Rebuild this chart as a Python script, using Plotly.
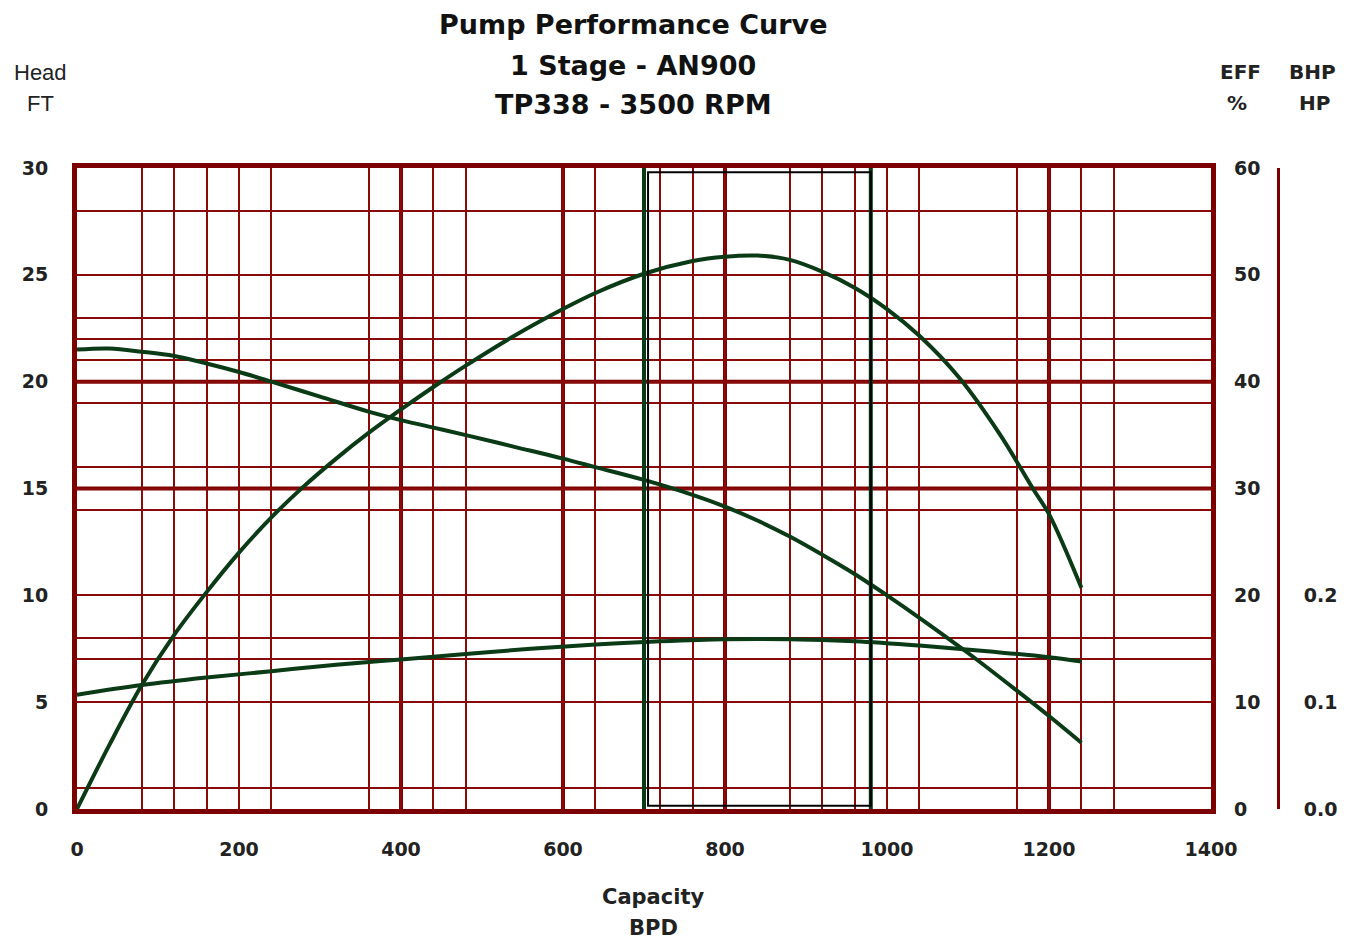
import plotly.graph_objects as go

# ---------------- data ----------------
head_q = [0, 40, 80, 120, 160, 200, 240, 300, 360, 400, 440, 480, 540, 600, 640, 700,
          760, 800, 840, 880, 920, 960, 1000, 1040, 1100, 1160, 1200, 1240]
head_ft = [21.5, 21.55, 21.4, 21.2, 20.85, 20.45, 20.0, 19.3, 18.6, 18.2, 17.85, 17.5, 16.95, 16.4, 16.0, 15.4,
           14.7, 14.15, 13.5, 12.75, 11.9, 11.0, 10.0, 8.95, 7.3, 5.55, 4.35, 3.1]

eff_q = [0, 40, 80, 120, 160, 200, 240, 280, 320, 360, 400, 440, 480, 540, 600, 640, 700,
         760, 800, 840, 880, 920, 960, 1000, 1040, 1090, 1140, 1180, 1200, 1240]
eff_pct = [0, 6.0, 11.6, 16.3, 20.3, 24.0, 27.3, 30.2, 32.8, 35.2, 37.4, 39.5, 41.5, 44.3, 46.8, 48.3, 50.1,
           51.3, 51.7, 51.8, 51.4, 50.3, 48.8, 46.8, 44.3, 40.3, 35.0, 30.0, 27.6, 20.7]

bhp_q = [0, 80, 160, 240, 320, 400, 480, 560, 640, 720, 800, 880, 960, 1040, 1120, 1200, 1240]
bhp_hp = [0.107, 0.116, 0.123, 0.129, 0.135, 0.140, 0.145, 0.150, 0.154, 0.157, 0.159, 0.159,
          0.157, 0.153, 0.148, 0.142, 0.138]

x_ticks = [0, 200, 400, 600, 800, 1000, 1200, 1400]
head_ticks = [0, 5, 10, 15, 20, 25, 30]
eff_ticks = [0, 10, 20, 30, 40, 50, 60]
bhp_ticks = [0.0, 0.1, 0.2]
bhp_labels = ["0.0", "0.1", "0.2"]

x_grid_minor = [80, 120, 160, 240, 360, 440, 480, 640, 720, 760, 880, 920, 960, 1040, 1160, 1240, 1280]
x_grid_major = [400, 600, 800, 1200]
y_grid_minor = [1, 7, 8, 14, 16, 19, 21, 22, 23, 28]
y_grid_major = [15, 20]

operating_range = [700, 980]
box_x = [705, 980]
box_y = [0.15, 29.8]

# ---------------- style ----------------
RED = "#7d0000"
GRID = "#8a0a0a"
GREEN = "#0b3a16"
TXT = "#222222"
FONT = "DejaVu Sans"

fig = go.Figure()
fig.add_trace(go.Scatter(x=head_q, y=head_ft, mode="lines", line=dict(color=GREEN, width=4, shape="spline"),
                         yaxis="y", name="Head"))
fig.add_trace(go.Scatter(x=eff_q, y=eff_pct, mode="lines", line=dict(color=GREEN, width=4, shape="spline"),
                         yaxis="y2", name="EFF"))
fig.add_trace(go.Scatter(x=bhp_q, y=bhp_hp, mode="lines", line=dict(color=GREEN, width=4, shape="spline"),
                         yaxis="y3", name="BHP"))

shapes = []
for xv in x_grid_major:
    shapes.append(dict(type="line", xref="x", yref="y domain", x0=xv, x1=xv, y0=0, y1=1,
                       line=dict(color=RED, width=4), layer="below"))
for yv in y_grid_major:
    shapes.append(dict(type="line", xref="x domain", yref="y", x0=0, x1=1, y0=yv, y1=yv,
                       line=dict(color=RED, width=4), layer="below"))
for xv in operating_range:
    shapes.append(dict(type="line", xref="x", yref="y domain", x0=xv, x1=xv, y0=0, y1=1,
                       line=dict(color=GREEN, width=4), layer="above"))
shapes.append(dict(type="rect", xref="x", yref="y", x0=box_x[0], x1=box_x[1], y0=box_y[0], y1=box_y[1],
                   line=dict(color="#000000", width=2), layer="above"))

W, H = 1353, 941
ML, MR, MT, MB = 77, 53, 168, 132
PW = W - ML - MR
PH = H - MT - MB


def px(xp):
    return (xp - ML) / PW


def py(yp):
    return (H - MB - yp) / PH


def ann(text, x, y, size, bold=True, family=FONT, color=TXT):
    return dict(text=text, xref="paper", yref="paper", x=px(x), y=py(y), showarrow=False,
                xanchor="center", yanchor="middle",
                font=dict(family=family, size=size, color=color, weight=700 if bold else 400))


annotations = [
    ann("Pump Performance Curve", 633, 24, 27, color="#111111"),
    ann("1 Stage - AN900", 633, 65, 27, color="#111111"),
    ann("TP338 - 3500 RPM", 633, 105, 27, color="#111111"),
    ann("Head", 40, 72, 22, bold=False, family="Liberation Sans Narrow, Liberation Sans"),
    ann("FT", 40, 103, 22, bold=False, family="Liberation Sans Narrow, Liberation Sans"),
    ann("EFF", 1240, 72, 20),
    ann("%", 1237, 103, 20),
    ann("BHP", 1312, 72, 20),
    ann("HP", 1314, 103, 20),
    ann("Capacity", 653, 897, 21),
    ann("BPD", 653, 928, 21),
]

tickfont = dict(family=FONT, size=19, color=TXT, weight=700)
xdom_right = (1211 - ML) / PW

fig.update_layout(
    width=W, height=H, autosize=False,
    margin=dict(l=ML, r=MR, t=MT, b=MB, pad=0),
    paper_bgcolor="white", plot_bgcolor="white",
    showlegend=False,
    xaxis=dict(domain=[0, xdom_right], range=[0, 1400], tickmode="array", tickvals=x_ticks,
               showgrid=True, gridcolor=GRID, gridwidth=2, zeroline=False,
               minor=dict(tickmode="array", tickvals=x_grid_minor, showgrid=True, gridcolor=GRID, gridwidth=2),
               showline=True, linecolor=RED, linewidth=5, mirror=True, ticks="",
               ticklabelstandoff=19, tickfont=tickfont),
    yaxis=dict(range=[0, 30], tickmode="array", tickvals=head_ticks,
               showgrid=True, gridcolor=GRID, gridwidth=2, zeroline=False,
               minor=dict(tickmode="array", tickvals=y_grid_minor, showgrid=True, gridcolor=GRID, gridwidth=2),
               showline=True, linecolor=RED, linewidth=5, mirror=True, ticks="",
               ticklabelstandoff=20, tickfont=tickfont),
    yaxis2=dict(range=[0, 60], overlaying="y", side="right", anchor="x", tickmode="array", tickvals=eff_ticks,
                showgrid=False, zeroline=False, showline=False, ticks="",
                ticklabelstandoff=22, tickfont=tickfont),
    yaxis3=dict(range=[0, 0.6], overlaying="y", side="right", anchor="free", position=px(1278),
                tickmode="array", tickvals=bhp_ticks, ticktext=bhp_labels,
                showgrid=False, zeroline=False, showline=True, linecolor=RED, linewidth=3, ticks="",
                ticklabelstandoff=20, tickfont=tickfont),
    shapes=shapes,
    annotations=annotations,
)

fig.write_html("out.html", config={"displayModeBar": False},
               post_script="document.body.style.margin='0';document.body.style.overflow='hidden';")
